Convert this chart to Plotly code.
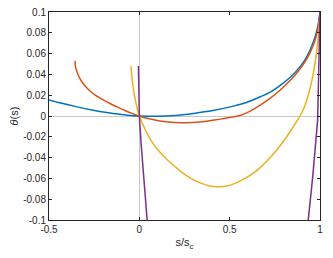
import plotly.graph_objects as go

# Blue curve
blue_x = [-0.5, -0.44, -0.35, -0.255, -0.18, -0.107, -0.05, 0.0, 0.1, 0.2, 0.3, 0.4, 0.52, 0.6, 0.669, 0.72, 0.78, 0.84, 0.89, 0.92, 0.945, 0.965, 0.981, 0.992, 1.0]
blue_y = [0.0155, 0.0127, 0.009, 0.0056, 0.0034, 0.0017, 0.0006, 0.0, -0.0003, 0.0005, 0.0025, 0.005, 0.0095, 0.0135, 0.0185, 0.0225, 0.0295, 0.038, 0.0475, 0.055, 0.0635, 0.072, 0.081, 0.09, 0.1]

# Orange curve
orange_x = [-0.356, -0.355, -0.352, -0.347, -0.34, -0.33, -0.315, -0.295, -0.27, -0.24, -0.2, -0.16, -0.12, -0.08, -0.04, 0.0, 0.05, 0.1, 0.15, 0.2, 0.26, 0.32, 0.38, 0.45, 0.5, 0.557, 0.6, 0.669, 0.72, 0.78, 0.84, 0.89, 0.92, 0.945, 0.965, 0.981, 0.992, 1.0]
orange_y = [0.053, 0.0495, 0.0465, 0.0435, 0.0402, 0.0365, 0.0322, 0.0278, 0.0235, 0.0195, 0.0155, 0.0118, 0.0085, 0.0053, 0.0025, 0.0, -0.0025, -0.0043, -0.0055, -0.0062, -0.0064, -0.006, -0.0048, -0.003, -0.0015, 0.0005, 0.0035, 0.0105, 0.0165, 0.025, 0.035, 0.0455, 0.053, 0.061, 0.069, 0.078, 0.088, 0.099]

# Yellow curve
yellow_x = [-0.046, -0.044, -0.04, -0.035, -0.028, -0.02, -0.01, 0.0, 0.03, 0.061, 0.1, 0.154, 0.2, 0.245, 0.29, 0.34, 0.385, 0.43, 0.475, 0.52, 0.57, 0.617, 0.669, 0.705, 0.743, 0.78, 0.816, 0.847, 0.87, 0.889, 0.91, 0.926, 0.945, 0.963, 0.98, 0.99, 1.0]
yellow_y = [0.048, 0.043, 0.036, 0.029, 0.021, 0.0135, 0.006, 0.0, -0.012, -0.0225, -0.032, -0.042, -0.049, -0.0555, -0.0605, -0.0645, -0.067, -0.068, -0.0675, -0.0655, -0.0615, -0.0567, -0.0496, -0.0436, -0.0364, -0.0284, -0.0199, -0.0118, -0.0055, 0.0, 0.0072, 0.015, 0.0265, 0.041, 0.06, 0.075, 0.097]

# Purple curve (two branches)
purple_x = [-0.005, -0.004, -0.002, 0.0, 0.01, 0.02, 0.03, 0.043, 0.046, None, 0.93, 0.935, 0.96, 0.987, 0.995, 1.0]
purple_y = [0.048, 0.033, 0.017, 0.0, -0.027, -0.05, -0.072, -0.1, -0.106, None, -0.108, -0.1, -0.058, -0.004, 0.045, 0.1]

x_ticks = [-0.5, 0, 0.5, 1]
x_tick_labels = ["-0.5", "0", "0.5", "1"]
y_ticks = [-0.1, -0.08, -0.06, -0.04, -0.02, 0, 0.02, 0.04, 0.06, 0.08, 0.1]
y_tick_labels = ["-0.1", "-0.08", "-0.06", "-0.04", "-0.02", "0", "0.02", "0.04", "0.06", "0.08", "0.1"]

FONT = "Liberation Sans, Arial, sans-serif"

fig = go.Figure()
fig.add_trace(go.Scatter(x=blue_x, y=blue_y, mode="lines", line=dict(color="#0072BD", width=1.5, shape="spline", smoothing=0.6)))
fig.add_trace(go.Scatter(x=orange_x, y=orange_y, mode="lines", line=dict(color="#D95319", width=1.5, shape="spline", smoothing=0.6)))
fig.add_trace(go.Scatter(x=yellow_x, y=yellow_y, mode="lines", line=dict(color="#EDB120", width=1.5, shape="spline", smoothing=0.6)))
fig.add_trace(go.Scatter(x=purple_x, y=purple_y, mode="lines", line=dict(color="#7E2F8E", width=1.5), connectgaps=False))

axis_common = dict(
    showgrid=False, zeroline=True, zerolinecolor="#c8c8c8", zerolinewidth=1,
    showline=True, linecolor="#262626", linewidth=1, mirror="ticks",
    ticks="inside", ticklen=3, tickcolor="#262626", tickwidth=1,
    tickfont=dict(family=FONT, size=10, color="#262626"),
    automargin=False,
)
fig.update_xaxes(range=[-0.5, 1], tickvals=x_ticks, ticktext=x_tick_labels,
                 title=dict(text="s/s<sub>c</sub>", standoff=4,
                            font=dict(family=FONT, size=11, color="#262626")),
                 **axis_common)
fig.update_yaxes(range=[-0.1, 0.1], tickvals=y_ticks, ticktext=y_tick_labels,
                 title=dict(text="<i>θ</i>(s)", standoff=2,
                            font=dict(family=FONT, size=11, color="#262626")),
                 **axis_common)
fig.update_layout(width=333, height=258, margin=dict(l=49, r=13, t=12, b=38),
                  plot_bgcolor="white", paper_bgcolor="white", showlegend=False)
fig.write_html("out.html", config={"displayModeBar": False},
               post_script="document.body.style.margin='0';")
